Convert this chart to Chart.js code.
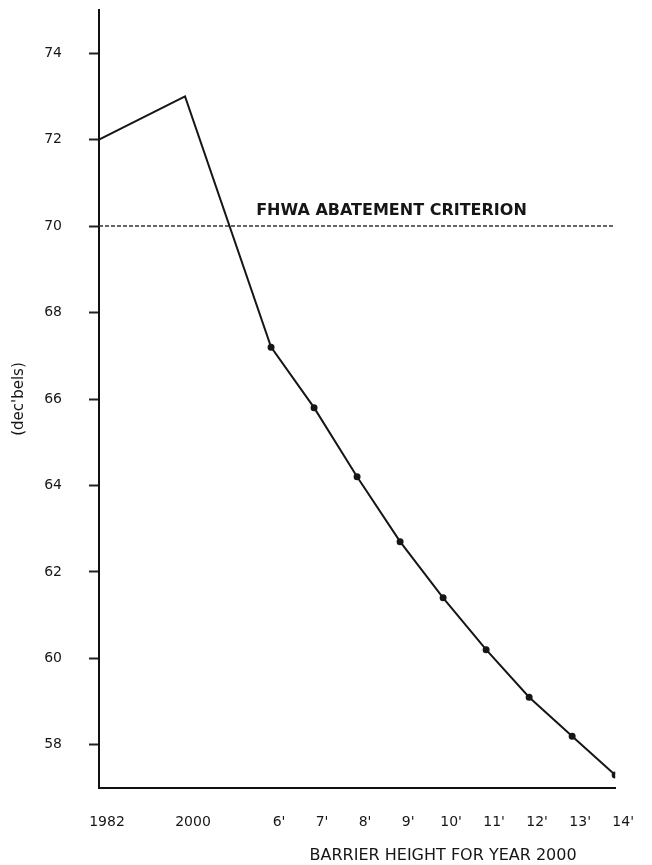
<!DOCTYPE html>
<html>
<head>
<meta charset="utf-8">
<script src="https://cdn.jsdelivr.net/npm/chart.js@4"></script>
<style>
  html, body { margin: 0; padding: 0; background: #fff; }
  canvas { display: block; }
</style>
</head>
<body>
<canvas id="chart" width="652" height="865"></canvas>
<script>
// x: 1982, 2000, then barrier heights 6'..14' for year 2000
const xLabels = ["1982", "2000", "6'", "7'", "8'", "9'", "10'", "11'", "12'", "13'", "14'"];
const xSteps = [0, 2, 4, 5, 6, 7, 8, 9, 10, 11, 12];
// noise level, decibels
const levels = [72.0, 73.0, 67.2, 65.8, 64.2, 62.7, 61.4, 60.2, 59.1, 58.2, 57.3];
const hasMarker = [false, false, true, true, true, true, true, true, true, true, true];
const yTicks = [58, 60, 62, 64, 66, 68, 70, 72, 74];
const criterion = 70;
const criterionLabel = 'FHWA ABATEMENT CRITERION';
const xTitle = 'BARRIER HEIGHT FOR YEAR 2000';

const ink = '#161616';
const FONT = '"DejaVu Sans", sans-serif';

// criterion caption above the dashed line, x-axis caption under the tick labels
const captions = {
    id: 'captions',
    afterDraw(chart) {
        const { ctx, scales } = chart;
        ctx.save();
        ctx.fillStyle = ink;
        ctx.textAlign = 'center';
        ctx.textBaseline = 'middle';
        ctx.font = 'bold 16px ' + FONT;
        ctx.fillText(criterionLabel, scales.x.getPixelForValue(6.8), scales.y.getPixelForValue(criterion) - 15);
        ctx.font = '16px ' + FONT;
        ctx.fillText(xTitle, scales.x.getPixelForValue(8), scales.x.bottom - 9);
        ctx.restore();
    }
};

const ctx = document.getElementById('chart').getContext('2d');
new Chart(ctx, {
    type: 'line',
    data: {
        datasets: [
            {
                label: 'Noise level',
                data: xSteps.map((x, i) => ({ x: x, y: levels[i] })),
                borderColor: ink,
                borderWidth: 2,
                pointRadius: hasMarker.map(m => m ? 2.5 : 0),
                pointBackgroundColor: ink,
                pointBorderColor: ink,
                tension: 0
            },
            {
                label: criterionLabel,
                data: [{ x: xSteps[0], y: criterion }, { x: xSteps[xSteps.length - 1], y: criterion }],
                borderColor: '#333',
                borderWidth: 1.5,
                borderDash: [4, 2],
                pointRadius: 0
            }
        ]
    },
    options: {
        responsive: false,
        animation: false,
        devicePixelRatio: 1,
        layout: { padding: { top: 10, right: 35, left: 0, bottom: 0 } },
        plugins: {
            legend: { display: false },
            tooltip: { enabled: false }
        },
        scales: {
            x: {
                type: 'linear',
                min: 0,
                max: 12,
                afterBuildTicks: s => { s.ticks = xSteps.map(v => ({ value: v })); },
                afterFit: s => { s.height = 77; },
                ticks: {
                    autoSkip: false,
                    maxRotation: 0,
                    padding: 26,
                    labelOffset: 8,
                    color: ink,
                    font: { family: FONT, size: 14 },
                    callback: (v, i) => xLabels[i]
                },
                grid: { drawOnChartArea: false, drawTicks: false },
                border: { display: true, color: '#111', width: 2 }
            },
            y: {
                min: 57,
                max: 75,
                afterBuildTicks: s => { s.ticks = yTicks.map(v => ({ value: v })); },
                afterFit: s => { s.width = 99; s.paddingTop = 0; s.paddingBottom = 0; },
                ticks: {
                    padding: 27,
                    color: ink,
                    font: { family: FONT, size: 14 }
                },
                grid: {
                    drawOnChartArea: false,
                    drawTicks: true,
                    tickLength: 10,
                    tickColor: '#222',
                    tickWidth: 2
                },
                border: { display: true, color: '#111', width: 2 },
                title: {
                    display: true,
                    text: "(dec'bels)",
                    color: ink,
                    font: { family: FONT, size: 15 },
                    padding: { top: 10, bottom: 0 }
                }
            }
        }
    },
    plugins: [captions]
});
</script>
</body>
</html>
